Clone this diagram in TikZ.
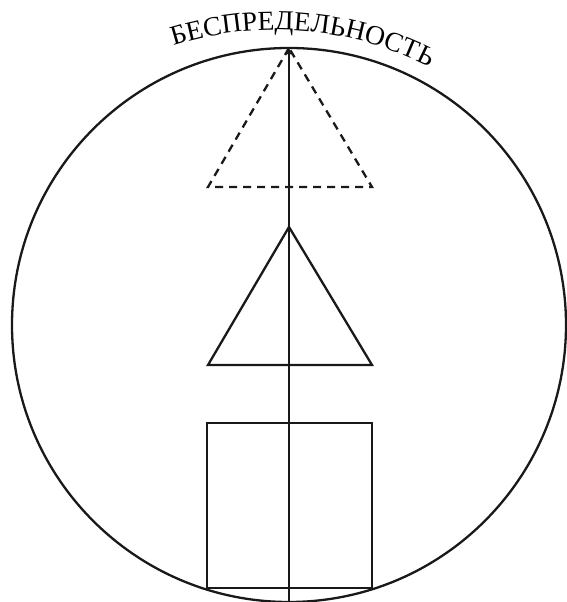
\documentclass[tikz,border=0pt]{standalone}
\usepackage{fontspec}
\setmainfont{Liberation Serif}
\usetikzlibrary{arrows.meta,decorations.text}
\begin{document}
\begin{tikzpicture}[x=1pt,y=1pt,
  figline/.style={line width=2.3pt,black!90},
  dashline/.style={figline,dash pattern=on 8pt off 6pt}]
\useasboundingbox (0,0) rectangle (567,602);
\coordinate (O) at (289,277);
\coordinate (T) at (275,232);
\coordinate (axisbot) at (289,0);
\coordinate (axistop) at (289,554);
% circle
\draw[figline] (O) circle[radius=277];
% dashed triangle
\coordinate (dA) at (289,554);
\coordinate (dL) at (208,415);
\coordinate (dR) at (372,415);
\draw[dashline] (dA) -- (dL) -- (dR) -- cycle;
% solid triangle
\coordinate (tA) at (289,375);
\coordinate (tL) at (208,237);
\coordinate (tR) at (372,237);
\draw[figline] (tA) -- (tL) -- (tR) -- cycle;
% square
\draw[figline] (207,14) rectangle (372,179);
% axis
\draw[figline,-{Stealth[length=7pt,width=5pt]}] (axisbot) -- (axistop);
% text
\path[decorate,decoration={text along path,text align=center,
  text={|\fontsize{27.5}{28}\selectfont|БЕСПРЕДЕЛЬНОСТЬ}}]
  ([shift={(T)}]151.2:340) arc[start angle=151.2,end angle=19.2,radius=340];
\end{tikzpicture}
\end{document}
